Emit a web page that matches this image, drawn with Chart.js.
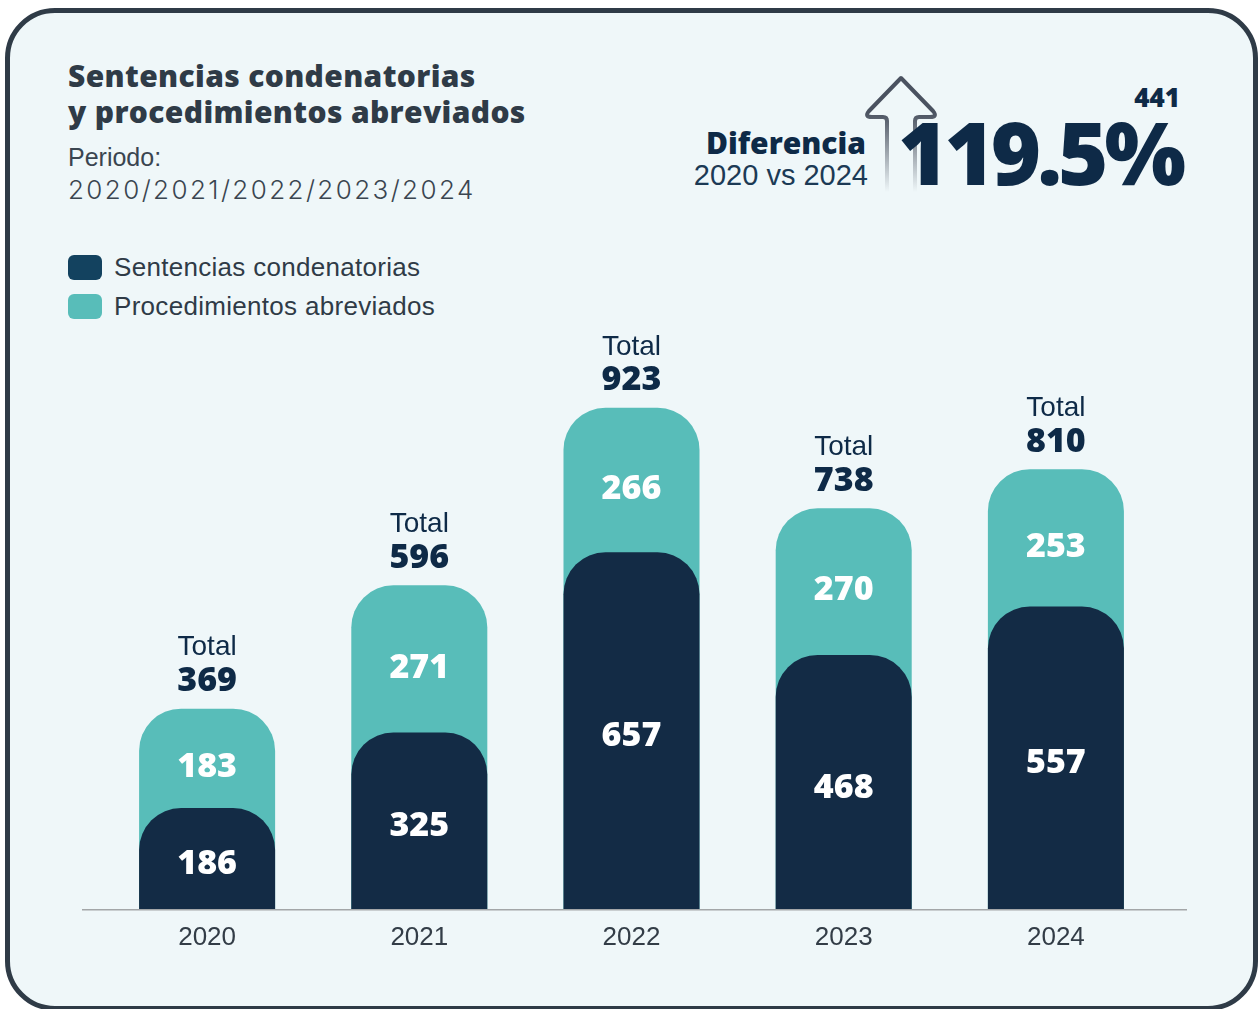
<!DOCTYPE html>
<html lang="es">
<head>
<meta charset="utf-8">
<script src="https://cdn.jsdelivr.net/npm/chart.js@4"></script>
<style>
  html, body { margin: 0; padding: 0; width: 1260px; height: 1009px; overflow: hidden; background: #ffffff; }
  .card { position: absolute; left: 5px; top: 8px; width: 1253px; height: 1003px; box-sizing: border-box;
          border: 5px solid #2f3b47; border-radius: 50px; background: #eff7f9; }
  .txt { position: absolute; white-space: nowrap; }
  .title { left: 68px; top: 58px; font: 800 30px/36px "Open Sans", sans-serif; color: #2f3b47; letter-spacing: 0.35px; }
  .periodo { left: 68px; top: 142px; font: 400 25px/30px "Liberation Sans", Arial, sans-serif; color: #3a4550; }
  .years { left: 68px; top: 174px; font: 300 26px/32px "Inter", sans-serif; color: #3a4550; letter-spacing: 2.4px; }
  .legend { left: 68px; top: 248px; font: 400 26px/39px "Liberation Sans", Arial, sans-serif; color: #2f3b47; letter-spacing: 0.3px; }
  .legend div { display: flex; align-items: center; }
  .legend span.sw { display: inline-block; width: 34px; height: 25px; border-radius: 6px; margin-right: 12px; }
  .dif { right: 394px; top: 125px; text-align: right; font: 800 30px/36px "Open Sans", sans-serif; color: #0e2a47; }
  .vs { right: 392px; top: 158px; text-align: right; font: 400 29px/34px "Liberation Sans", Arial, sans-serif; color: #1c3a55; }
  .n441 { right: 80px; top: 81px; font: 800 26px/32px "Open Sans", sans-serif; color: #0e2a47; }
  .pct { right: 78px; top: 104px; font: 800 86px/96px "Open Sans", sans-serif; color: #0e2a47; letter-spacing: -4px; }
  #wrap { position: absolute; left: 0; top: 0; width: 1260px; height: 1009px; }
</style>
</head>
<body>
<div class="card"></div>

<svg class="txt" style="left:0;top:0" width="1260" height="1009">
  <defs>
    <linearGradient id="fade" gradientUnits="userSpaceOnUse" x1="0" y1="112" x2="0" y2="192">
      <stop offset="0" stop-color="#4a5260" stop-opacity="1"/>
      <stop offset="1" stop-color="#4a5260" stop-opacity="0"/>
    </linearGradient>
  </defs>
  <path d="M887,192 L887,121 Q887,117 883,117 L872,117 Q864,117 869,111 L901,78 L933,111 Q938,117 930,117 L919,117 Q915,117 915,121 L915,192"
        fill="none" stroke="url(#fade)" stroke-width="4" stroke-linejoin="round"/>
</svg>

<div class="txt title">Sentencias condenatorias<br>y procedimientos abreviados</div>
<div class="txt periodo">Periodo:</div>
<div class="txt years">2020/2021/2022/2023/2024</div>

<div class="txt legend">
  <div><span class="sw" style="background:#13425f"></span>Sentencias condenatorias</div>
  <div><span class="sw" style="background:#58bdb9"></span>Procedimientos abreviados</div>
</div>

<div class="txt dif">Diferencia</div>
<div class="txt vs">2020 vs 2024</div>
<div class="txt n441">441</div>
<div class="txt pct">119.5%</div>

<div id="wrap"><canvas id="chart"></canvas></div>

<script>
const years = ['2020', '2021', '2022', '2023', '2024'];
const sentencias = [186, 325, 657, 468, 557];
const abreviados = [183, 271, 266, 270, 253];
const totales = [369, 596, 923, 738, 810];

const DARK = '#132b45';
const TEAL = '#58bdb9';

// value labels inside the bars and the "Total" above each bar
const barLabels = {
    id: 'barLabels',
    afterDatasetsDraw(chart) {
        const ctx = chart.ctx;
        const dark = chart.getDatasetMeta(0).data;
        const teal = chart.getDatasetMeta(1).data;
        ctx.save();
        ctx.textAlign = 'center';
        ctx.textBaseline = 'middle';
        years.forEach((y, i) => {
            const d = dark[i], t = teal[i];
            ctx.fillStyle = '#ffffff';
            ctx.font = '800 34px "Open Sans", sans-serif';
            ctx.fillText(String(sentencias[i]), d.x, (d.y + d.base) / 2 + 6);
            ctx.fillText(String(abreviados[i]), t.x, (t.y + d.y) / 2 + 9);
            ctx.fillStyle = '#0e2a47';
            ctx.font = '400 28px "Liberation Sans", Arial, sans-serif';
            ctx.fillText('Total', t.x, t.y - 61);
            ctx.font = '800 34px "Open Sans", sans-serif';
            ctx.fillText(String(totales[i]), t.x, t.y - 27);
        });
        // baseline
        const a = chart.chartArea;
        ctx.strokeStyle = '#a3a6a8';
        ctx.lineWidth = 1.5;
        ctx.beginPath();
        ctx.moveTo(82, a.bottom + 0.75);
        ctx.lineTo(1187, a.bottom + 0.75);
        ctx.stroke();
        ctx.restore();
    }
};

const radius = { topLeft: 42, topRight: 42, bottomLeft: 0, bottomRight: 0 };

new Chart(document.getElementById('chart'), {
    type: 'bar',
    data: {
        labels: years,
        datasets: [
            {
                label: 'Sentencias condenatorias',
                data: sentencias,
                backgroundColor: DARK,
                borderRadius: radius,
                borderSkipped: false,
                grouped: false
            },
            {
                label: 'Procedimientos abreviados',
                data: totales,
                backgroundColor: TEAL,
                borderRadius: radius,
                borderSkipped: false,
                grouped: false
            }
        ]
    },
    options: {
        responsive: true,
        maintainAspectRatio: false,
        animation: false,
        layout: { padding: { top: 366, left: 101, right: 98, bottom: 0 } },
        datasets: { bar: { categoryPercentage: 1, barPercentage: 0.641 } },
        plugins: { legend: { display: false }, tooltip: { enabled: false } },
        scales: {
            x: {
                grid: { display: false },
                border: { display: false },
                ticks: {
                    color: '#333d47',
                    padding: 5,
                    font: { family: '"Liberation Sans", Arial, sans-serif', size: 26 }
                },
                afterFit(scale) { scale.height = 100; }
            },
            y: { display: false, min: 0, max: 1000 }
        }
    },
    plugins: [barLabels]
});
</script>
</body>
</html>
